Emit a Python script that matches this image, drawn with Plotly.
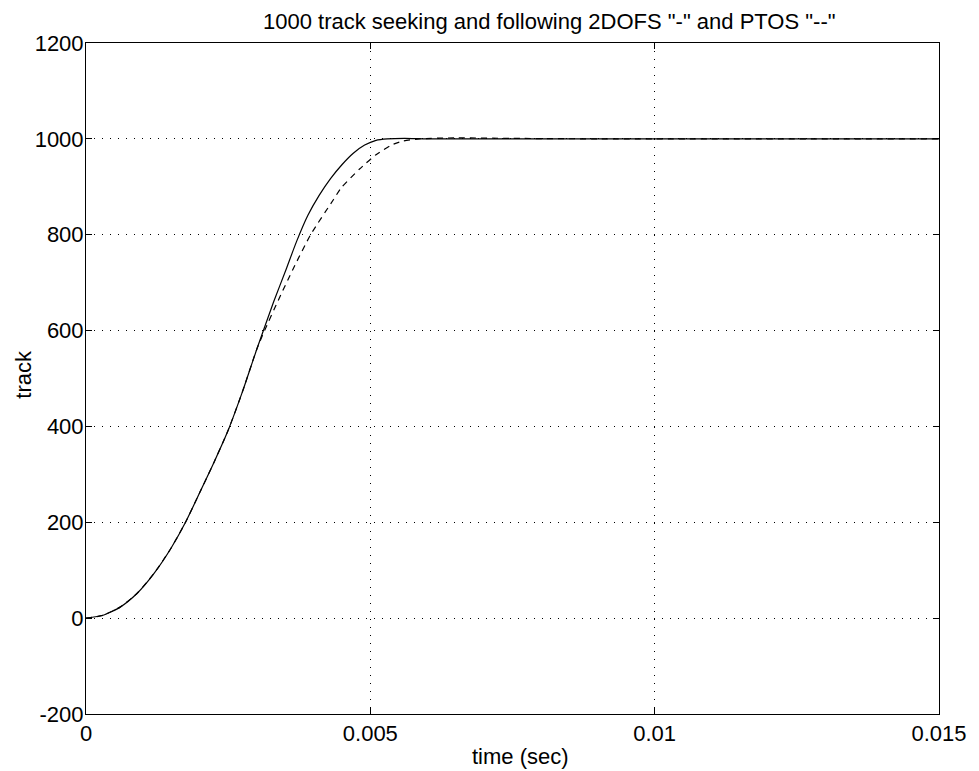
import plotly.graph_objects as go

# 2DOFS (solid)
t_2dofs = [0, 0.0003, 0.0006, 0.0009, 0.0012, 0.0015, 0.00175, 0.002, 0.00225, 0.0025,
           0.00275, 0.003, 0.0033, 0.00352, 0.0037, 0.0039, 0.0041, 0.0043, 0.0045, 0.0047,
           0.0049, 0.0051, 0.0053, 0.0056, 0.006, 0.007, 0.01, 0.015]
y_2dofs = [0, 6, 23, 52, 94, 147, 200, 262, 325, 392,
           472, 560, 660, 728, 785, 840, 882, 917, 946, 970,
           987, 997, 1000, 1001, 1000, 1000, 1000, 1000]

# PTOS (dashed)
t_ptos = [0, 0.0003, 0.0006, 0.0009, 0.0012, 0.0015, 0.00175, 0.002, 0.00225, 0.0025,
          0.00275, 0.003, 0.00314, 0.0034, 0.00364, 0.00395, 0.00435, 0.00449, 0.00481, 0.0051,
          0.00537, 0.00556, 0.00586, 0.0065, 0.0075, 0.009, 0.015]
y_ptos = [0, 6, 23, 52, 94, 147, 200, 262, 325, 392,
          472, 560, 600, 668, 728, 800, 873, 898, 937, 967,
          987, 995, 1000, 1002, 1001, 1000, 1000]

x_ticks = [0, 0.005, 0.01, 0.015]
x_ticktext = ["0", "0.005", "0.01", "0.015"]
y_ticks = [-200, 0, 200, 400, 600, 800, 1000, 1200]
y_ticktext = ["-200", "0", "200", "400", "600", "800", "1000", "1200"]

title_text = '1000 track seeking and following 2DOFS "-" and PTOS "--"'
xlabel_text = "time (sec)"
ylabel_text = "track"

FONT = "Liberation Sans, Arial, Helvetica, sans-serif"
FS = 22

fig = go.Figure()
fig.add_trace(go.Scatter(x=t_2dofs, y=y_2dofs, mode="lines", name="2DOFS",
                         line=dict(color="black", width=1.2, dash="solid", shape="spline", smoothing=0.6)))
fig.add_trace(go.Scatter(x=t_ptos, y=y_ptos, mode="lines", name="PTOS",
                         line=dict(color="black", width=1.2, dash="6px,5px", shape="spline", smoothing=0.6)))

axis_common = dict(showline=True, linecolor="black", linewidth=1, mirror="ticks",
                   ticks="inside", ticklen=6, tickcolor="black",
                   showgrid=True, gridcolor="black", gridwidth=1, griddash="1px,7px",
                   zeroline=False, tickfont=dict(size=FS, color="black", family=FONT))

fig.update_layout(
    width=979, height=771,
    margin=dict(l=86, r=38, t=43, b=57),
    paper_bgcolor="white", plot_bgcolor="white",
    showlegend=False,
    font=dict(family=FONT, color="black", size=FS),
    xaxis=dict(range=[0, 0.015], tickvals=x_ticks, ticktext=x_ticktext, ticklabelstandoff=0,
               **axis_common),
    yaxis=dict(range=[-200, 1200], tickvals=y_ticks, ticktext=y_ticktext, ticklabelstandoff=-3,
               **axis_common),
    annotations=[
        dict(text=title_text, xref="paper", yref="paper", x=0.5439, y=1.032,
             xanchor="center", yanchor="middle", showarrow=False,
             font=dict(size=FS, color="black", family=FONT)),
        dict(text=xlabel_text, xref="paper", yref="paper", x=0.5088, y=-0.0626,
             xanchor="center", yanchor="middle", showarrow=False,
             font=dict(size=FS, color="black", family=FONT)),
        dict(text=ylabel_text, xref="paper", yref="paper", x=-0.0743, y=0.5067,
             xanchor="center", yanchor="middle", showarrow=False, textangle=-90,
             font=dict(size=FS, color="black", family=FONT)),
    ],
)

fig.write_html("out.html")
